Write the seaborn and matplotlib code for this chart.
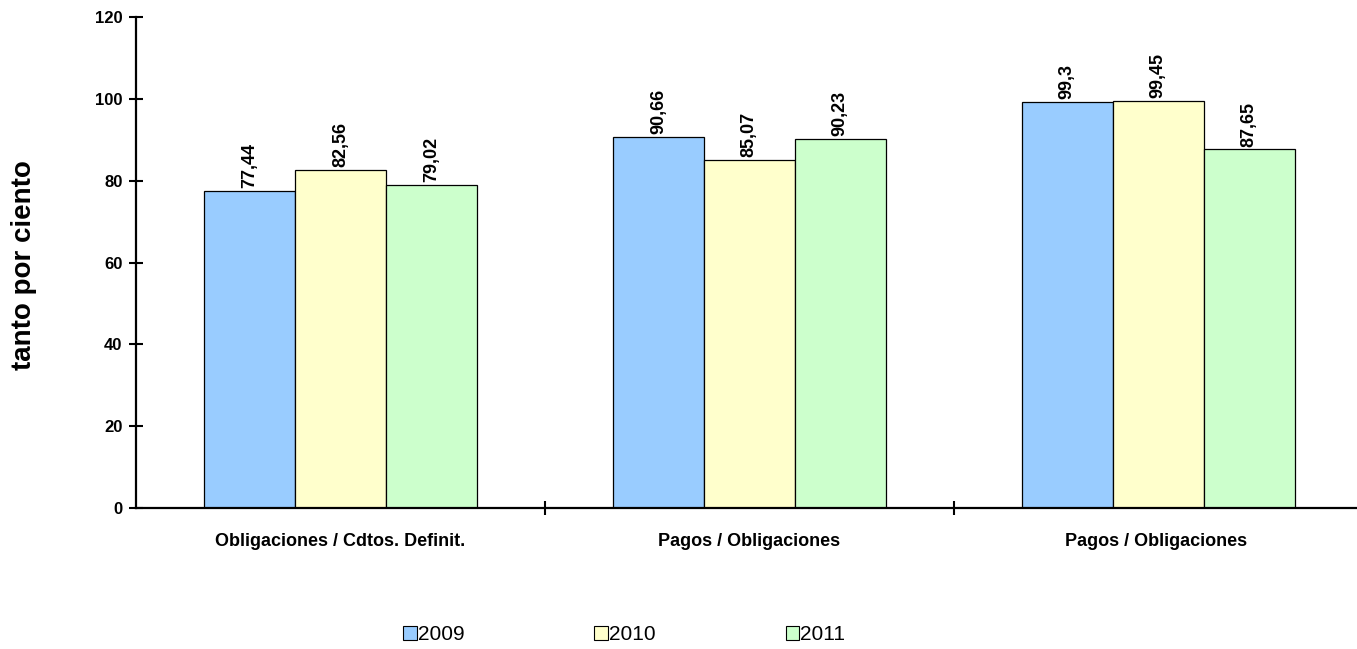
import pandas as pd
import seaborn as sns
import matplotlib.pyplot as plt
from matplotlib.patches import Patch

# data
categorias = ['Obligaciones / Cdtos. Definit.', 'Pagos / Obligaciones', 'Pagos / Obligaciones ']
anios = ['2009', '2010', '2011']
v2009 = [77.44, 90.66, 99.3]
v2010 = [82.56, 85.07, 99.45]
v2011 = [79.02, 90.23, 87.65]
colores = ['#99CCFF', '#FFFFCC', '#CCFFCC']

rows = []
for anio, vals in zip(anios, [v2009, v2010, v2011]):
    for cat, v in zip(categorias, vals):
        rows.append({'cat': cat, 'anio': anio, 'valor': v})
df = pd.DataFrame(rows)

sns.set_style('ticks')
plt.rcParams['font.family'] = ['Liberation Sans', 'DejaVu Sans']
plt.rcParams['text.color'] = 'black'
plt.rcParams['axes.labelcolor'] = 'black'
plt.rcParams['xtick.color'] = 'black'
plt.rcParams['ytick.color'] = 'black'

fig = plt.figure(figsize=(13.57, 6.49), dpi=100)
ax = fig.add_axes([0.1002, 0.217, 0.904, 0.757])

sns.barplot(data=df, x='cat', y='valor', hue='anio', order=categorias,
            hue_order=anios, palette=colores, width=0.667,
            edgecolor='black', linewidth=0.9, saturation=1, ax=ax, legend=False)

for cont in ax.containers:
    etiquetas = [f'{v:g}'.replace('.', ',') for v in cont.datavalues]
    ax.bar_label(cont, labels=etiquetas, rotation=90, padding=2,
                 fontsize=13, fontweight='bold')

ax.set_ylim(0, 120)
ax.set_xlim(-0.5, 2.5)
ax.set_yticks(range(0, 121, 20))
ax.tick_params(axis='y', direction='inout', length=9.5, width=1.5,
               labelsize=12, pad=5)
for t in ax.get_yticklabels():
    t.set_fontweight('bold')

ax.set_xticks(range(3))
ax.set_xticklabels(categorias, fontsize=13, fontweight='bold')
ax.tick_params(axis='x', length=0, pad=18)
ax.set_xticks([0.5, 1.5], minor=True)
ax.tick_params(axis='x', which='minor', direction='inout', length=9.5, width=1.5)

ax.set_xlabel('')
ax.set_ylabel('tanto por ciento', fontsize=20, fontweight='bold')
ax.yaxis.set_label_coords(-0.081, 0.495)

for s in ['top', 'right']:
    ax.spines[s].set_visible(False)
for s in ['left', 'bottom']:
    ax.spines[s].set_linewidth(1.6)
    ax.spines[s].set_color('black')

handles = [Patch(facecolor=c, edgecolor='black', linewidth=0.8) for c in colores]
fig.legend(handles, anios, loc='center', bbox_to_anchor=(0.46, 0.022),
           ncol=3, frameon=False, fontsize=15, handlelength=0.65,
           handleheight=0.65, handletextpad=0.05, columnspacing=6.25)

fig.savefig('out.png', dpi=100)
